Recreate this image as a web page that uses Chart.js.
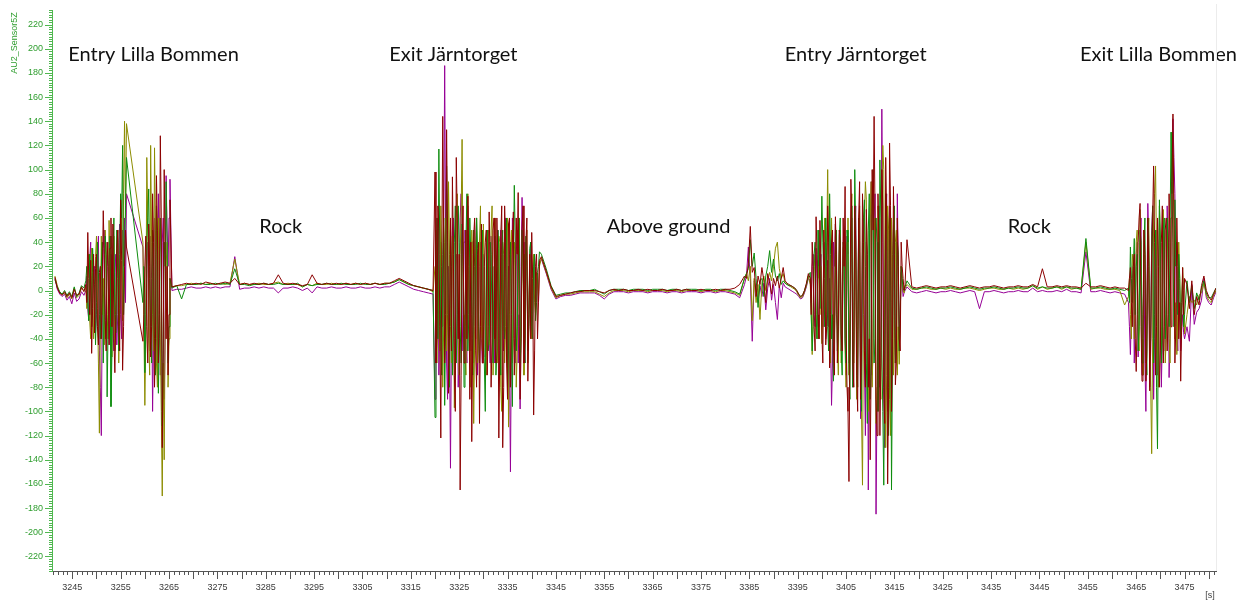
<!DOCTYPE html>
<html>
<head>
<meta charset="utf-8">
<title>AU2_Sensor5Z</title>
<script src="https://cdn.jsdelivr.net/npm/chart.js@4.4.0/dist/chart.umd.min.js"></script>
<style>
  html, body { margin: 0; padding: 0; background: #fff; }
  #wrap { width: 1243px; height: 601px; position: relative; }
</style>
</head>
<body>
<div id="wrap"><canvas id="sensorChart"></canvas></div>
<script>
// recording pieces: start time [s] and sample step [s]
var segStart = [3241.4, 3247.8, 3259.6, 3265.6, 3320.0, 3342.0, 3384.0, 3397.6, 3417.6, 3463.4, 3475.5];
var segStep  = [0.5, 0.2, 0.2, 1, 0.2, 1, 0.4, 0.2, 1, 0.2, 0.5];

var xTicks = [3245, 3255, 3265, 3275, 3285, 3295, 3305, 3315, 3325, 3335, 3345, 3355,
              3365, 3375, 3385, 3395, 3405, 3415, 3425, 3435, 3445, 3455, 3465, 3475];
var yTicks = [-220, -200, -180, -160, -140, -120, -100, -80, -60, -40, -20, 0,
              20, 40, 60, 80, 100, 120, 140, 160, 180, 200, 220];

// sensor channels, one sub-array per recording piece
var chRed = [
  [11, 2, -2, -4, -1, -5, -2, -6, 1, -4, -3, 3, -1],
  [5, -10, 48, 10, -20, 25, -52, -15, 30, -35, 18, 30, -30, -45, 15, 20, -40, 10, 66, 30,
   -25, -50, 40, 20, -45, 35, 60, -30, 55, -40, -68, -20, 35, 50, -30, -50, 75, 25, -66, -30,
   20, 50, 36],
  [-42, -20, 20, 45, -30, -60, 55, 20, -55, -30, 80, 40, -80, -40, 95, 50, -60, -20, 128, 60,
   -130, -50, 100, 30, -40, 20, -70, -20, 75],
  [3, 4, 5, 6, 5, 6, 5, 7, 6, 5, 6, 7, 6, 10, 5, 6, 5, 6, 5, 6, 5, 6, 13, 6, 5, 6, 5, 4, 5, 13,
   6, 5, 6, 5, 6, 5, 6, 5, 6, 5, 6, 5, 6, 5, 6, 6, 8, 10, 8, 6, 4, 3, 2, 1, 0],
  [98, -60, -40, 70, 50, -30, -122, 20, 144, 40, -60, -20, 133, 50, -85, -30, 60, -50, 94, 30,
   -70, -100, 110, 60, -40, 30, -165, -70, 40, 70, -60, -30, 50, -40, 78, 20, -90, 40, -125, -40,
   45, 60, -50, -80, 30, 40, -110, -30, 55, -60, -60, 20, 40, 50, -70, -30, 65, 20, -80, -40,
   50, 60, -40, -60, 60, 20, -122, -50, 45, 70, -130, -80, 70, 40, -60, -90, 55, 60, -80, -20,
   40, 65, -70, -40, 60, 30, 81, -30, -90, -50, 50, 70, -60, -40, 40, 60, -75, -30, 30, -40,
   48, 10, -103, -50, 20, 30, -40, -10, 25],
  [28, 16, 3, -5, -4, -3, -2, -1, -1, 0, 0, 0, -1, -2, 0, 1, 0, 1, 0, 0, 1, 0, 1, 0, 0, 1,
   0, 0, 1, 0, 1, 0, 0, 1, 0, 0, 1, 0, 1, 1, 2, 5],
  [12, 10, 22, 53, 15, 19, -5, 12, 5, 19, 8, -10, 14, 6, -3, 10, 4, 12, 2, 10,
   19, 8, 6, 5, 4, 3, 2, 0, -3, -5, -4, 0, 6, 14],
  [10, -20, 40, 20, -30, -50, 61, 30, -20, -40, 58, 20, -36, -60, 50, 10, -45, -30, 70, 40,
   -64, -20, 40, 50, -50, -70, 61, 30, -60, -30, 50, 40, -36, -50, 60, 20, 86, -30, -80, -100,
   -158, -40, 92, 60, -60, -80, 70, 40, -70, -100, 60, 90, -90, -50, 80, 40, -50, -80, 67, 30,
   -80, -40, -140, -60, 100, 50, 144, 60, -90, -120, 80, 40, -120, -60, 100, 70, -80, -110, 110, 60,
   -160, -80, 122, 70, -100, -40, 86, 30, -78, -60, 60, 20, -40, -50, 40, 20, 10, 0, 5],
  [42, 3, 2, 3, 4, 3, 2, 3, 3, 4, 3, 2, 3, 4, 3, 2, 3, 3, 4, 3, 2, 3, 3, 4, 3, 3, 5, 3, 18, 3,
   3, 4, 3, 4, 3, 3, 2, 6, 3, 3, 4, 3, 2, 3, 2, 2],
  [0, 10, 19, -10, -30, 20, 30, -40, -67, -20, 40, 60, 72, -30, -75, -40, 50, 30, -75, -50,
   60, 20, -83, -40, 30, 60, 103, 40, -70, -30, 60, 20, -80, -50, 40, 70, -60, -30, 50, 60,
   -50, -20, 80, 40, -30, 90, 146, 60, -60, -30, 60, 20, -40, -10, -75, -30, 19, -20, 10],
  [5, -15, 8, -20, -5, -12, 4, 12, 0, -5, -8, -3, 2]
];

var chGreen = [
  [9, 3, -1, -3, 0, -4, -1, -5, 3, -5, -2, 4, 2],
  [8, 20, -10, -25, 30, 10, -30, 35, 15, 5, -45, -10, 40, 15, -20, -40, 20, 40, -60, -20,
   45, 30, -88, -30, 25, 45, -96, -50, 30, 60, -20, -35, 50, 10, -50, 30, 80, 60, 120, -20,
   20, 70, 110],
  [-10, 20, -68, -30, 40, 60, 84, 10, -30, -60, 50, 20, -40, -70, 70, 30, -85, -40, 60, 30,
   -112, -40, 40, 20, 90, 40, -60, -30, 10],
  [2, 4, -7, 5, 5, 5, 6, 5, 5, 6, 5, 6, 5, 18, 5, 5, 4, 5, 5, 6, 5, 5, 6, 5, 5, 5, 6, 3, 5, 4,
   5, 5, 6, 5, 5, 6, 5, 5, 5, 6, 5, 5, 6, 5, 5, 6, 7, 9, 7, 5, 4, 3, 2, 1, 0],
  [-105, -30, 60, -40, 117, 30, -50, -70, 30, 60, -95, -20, 103, 40, -40, -80, 50, 20, -70, -30,
   40, 70, -60, -20, 70, 40, -30, -60, 55, 20, -80, -40, 40, 80, -50, -20, 60, 30, -20, -70,
   50, 20, -40, 60, 35, -30, -60, -20, 40, 50, -30, -60, -100, 30, 50, -50, -40, 40, 30, -30,
   -60, 20, 45, -70, -50, 50, 35, -40, -70, 30, 50, -30, -40, 50, 60, -80, -50, 30, 40, -40,
   -96, 20, 87, 40, -50, -30, 40, 60, -60, -40, 50, 30, -40, -60, 45, 20, -50, -20, 35, 40,
   -30, -40, 20, 30, -25, -10, 15, 20, 32],
  [30, 18, 4, -4, -3, -2, -2, -1, 0, 0, 0, 1, -1, -3, 0, 1, 1, 1, 0, 1, 1, 1, 0, 1, 1, 1,
   0, 1, 1, 0, 1, 1, 1, 0, 1, 1, 0, 1, 1, 0, -1, -3],
  [10, 14, 18, 42, 20, 31, 10, -14, 8, 10, -5, 12, 20, 33, 15, 26, 12, 8, 14, 5,
   8, 6, 5, 4, 4, 3, 2, 0, -3, -5, -4, 0, 5, 12],
  [15, -20, -50, -30, 30, 40, -20, -40, 50, 20, -15, 30, 78, 40, 10, -30, 60, 20, -30, -50,
   80, 30, -40, -20, -75, -40, 30, 50, -50, -30, 45, 60, -50, -70, 40, 30, -40, -60, 50, 40,
   -60, -90, 35, 70, -80, -40, 100, 50, -50, -80, 60, 30, -70, -100, 40, 60, 75, 20, -60, -110,
   50, 80, -90, -60, 70, 100, -60, -40, 60, 40, -100, -70, 108, 60, -50, -100, -161, -40, 80, 60,
   -70, -120, 60, 40, -165, -60, 50, 70, -60, -40, 40, 30, -50, -20, 20, 10, 2, 0, 3],
  [8, 2, 1, 2, 3, 2, 1, 2, 2, 3, 2, 1, 2, 3, 2, 1, 2, 2, 3, 2, 1, 2, 2, 3, 2, 2, 4, 2, 3, 2,
   2, 3, 2, 3, 2, 2, 1, 43, 2, 2, 3, 2, 1, 2, 1, 0],
  [2, -10, 36, 10, -10, 20, 43, -20, 20, 30, -50, -30, 50, 40, -60, -20, 40, 60, -40, -70,
   60, 30, -50, -40, 40, 70, -60, -20, 50, -80, -131, -20, 75, 40, -60, -40, 50, 60, -40, -20,
   60, 40, -30, 50, 131, 80, 40, -30, 75, 20, 40, -20, 30, 10, -40, -10, 10, -30, -20],
  [8, -10, 4, -15, -2, -8, 2, 8, -2, -6, -6, -2, 2]
];

var chOlive = [
  [12, 4, -2, -3, -2, -6, -3, -7, 2, -6, -4, 2, 0],
  [3, -15, 20, 30, -25, -40, 35, 15, -40, -20, 28, 45, -15, -60, -118, -30, 45, -20, 10, -45,
   50, 25, -20, -40, 58, 20, -35, -55, 20, 45, -50, -20, 30, 50, -60, -15, 40, 60, -25, 80,
   140, 60, 138],
  [40, -30, -95, -40, 110, 60, -40, -70, 120, 40, -20, -50, 118, 50, -60, -80, 60, 20, -45, -100,
   -170, -60, -140, -30, 20, 40, -80, -40, 10],
  [3, 4, 4, 5, 6, 5, 6, 5, 6, 5, 6, 5, 6, 26, 5, 6, 5, 5, 6, 5, 5, 6, 7, 5, 6, 5, 5, 3, 5, 4,
   6, 5, 5, 6, 5, 5, 6, 5, 6, 5, 6, 5, 6, 5, 6, 6, 7, 9, 7, 5, 4, 3, 2, 1, -1],
  [20, 50, -60, 20, -30, -50, 70, 10, -80, -30, 40, 60, -50, -20, 90, 30, -30, -60, 45, 20,
   -97, -40, 60, 80, -40, -70, 30, 60, 125, 20, -20, -50, -70, 40, 80, -20, -40, -80, 50, 30,
   -110, -40, 30, 60, -60, -30, 40, 70, -30, -50, 55, 20, -50, -70, 35, 50, -45, -20, 50, 70,
   -70, -40, 60, 20, -30, -60, 45, 40, -80, -100, 40, 30, -60, -30, 50, 60, -113, -20, 30, 50,
   -60, -40, 40, 20, -80, -50, 30, 60, -50, -30, 45, 30, -70, -40, 35, 50, -60, -30, 25, -20,
   -40, 10, 30, -10, -20, 15, 10, -5, 20],
  [27, 15, 2, -6, -4, -3, -3, -2, -1, -1, -1, -1, -3, -5, -2, 0, 0, 0, -1, 0, 0, 0, -1, 0, 0, 0,
   -1, 0, 0, -1, 0, 0, 0, -1, 0, 0, -1, 0, 0, -1, -2, -4],
  [10, 14, 8, 20, -25, 10, -10, 5, -24, 6, 12, 0, 8, 15, 8, 20, 35, 40, 18, 10,
   14, 6, 5, 4, 3, 2, 1, -1, -4, -6, -5, -1, 4, 12],
  [5, -20, -53, -10, 20, 30, -30, -40, 25, 10, -20, 20, -44, -20, 40, 60, -30, 40, 100, 30,
   -40, -60, 60, 20, -25, -40, 55, 30, -40, -70, 30, 50, -60, -30, 35, 40, -50, -80, 40, 60,
   -70, -40, 50, 80, -45, -60, 60, 30, -90, -50, 45, 70, -60, -100, -161, -20, 60, 90, 75, -40,
   -100, -60, 60, 90, -80, -40, 50, 60, -110, -80, 70, 40, -60, -90, 80, 120, 100, -50, -130, -70,
   70, 50, -90, -120, 60, 30, -70, -40, 40, 50, -70, -30, -61, -20, 20, 10, 0, -2, 2],
  [5, 1, 1, 2, 2, 1, 1, 2, 1, 2, 1, 1, 2, 2, 1, 0, 1, 2, 2, 1, 1, 2, 1, 2, 1, 2, 4, 1, 3, 1,
   2, 3, 1, 3, 1, 2, 1, 40, 1, 2, 2, 1, 1, 1, 0, -12],
  [-5, 10, -20, -40, 30, 20, -40, -20, 40, 50, -30, -50, 67, 30, -40, -70, 50, 20, -60, -30,
   40, 60, -50, -80, -135, -40, 60, 80, 103, 30, -50, -80, 70, 40, -50, -30, 67, 20, -60, -40,
   50, 30, -40, -60, 60, 90, 112, 60, -40, -10, -53, -20, 40, 10, -36, -10, 19, 0, -36],
  [-20, -5, -10, -8, -12, -4, -2, 6, -4, -8, -10, -4, 0]
];

var chPurple = [
  [10, 1, -3, -5, -3, -8, -5, -11, -2, -9, -7, -1, -4],
  [0, 12, -15, -25, 25, 40, -30, -10, 10, 20, -35, -20, 30, 45, -50, -80, -120, -10, 35, 50,
   -40, -15, 20, 40, -25, -45, 30, 10, -30, -50, 15, 30, -45, -20, 40, 55, -20, -40, 50, 20,
   60, -10, 80],
  [36, -10, -58, -20, 20, 40, -30, -50, 45, 10, -100, -40, 60, 30, -40, -60, 80, 20, -70, -30,
   40, 60, -90, -40, 95, 50, 20, 60, 92],
  [0, 1, 1, 2, 3, 2, 2, 3, 2, 3, 2, 3, 3, 28, 1, 2, 2, 3, 2, 3, 2, 2, -2, 2, 2, 3, 2, 0, 2, -2,
   3, 2, 2, 3, 2, 2, 3, 2, 2, 3, 2, 2, 3, 2, 3, 3, 5, 7, 5, 3, 1, 0, -1, -2, -3],
  [-90, -40, 30, 60, -70, -20, 40, 20, -30, 50, 186, 40, -60, -90, 20, -40, -147, -30, 50, 60,
   -40, -70, 30, 20, -80, -40, 60, 80, -50, -20, 40, 50, -45, -60, 70, 20, -30, -50, 40, 40,
   -60, -30, 35, 60, -70, -20, 20, 40, -40, -60, 30, 20, -55, -40, 25, 50, -30, -60, 45, 30,
   -20, -40, -60, 20, 30, 50, -40, -70, 50, 30, -30, -50, 40, 60, -50, -30, 20, -60, -150, -40,
   60, 40, -40, -60, 30, 50, -60, -20, -98, 20, 77, 40, -30, -60, 40, 30, -45, -30, 20, 40,
   -35, -20, 25, 30, -15, 10, 10, -10, 22],
  [26, 14, 1, -7, -5, -4, -4, -3, -2, -2, -2, -2, -4, -7, -3, -1, -1, -1, -2, -1, -1, -1, -2, -1, -1, -1,
   -2, -1, -1, -2, -1, -1, -1, -2, -1, -1, -2, -1, -1, -2, -3, -6],
  [5, 12, 36, 10, -42, 8, 0, -10, 4, -5, 6, -16, 2, 10, -8, 5, -10, -24, 4, -6,
   6, 3, 2, 1, 0, -1, -2, -3, -5, -7, -6, -2, 3, 10],
  [8, -10, 20, 30, -20, -30, 35, 10, -30, -20, 20, 30, -15, -30, 30, 40, -40, -20, 25, -30,
   10, -40, -95, -60, 40, 20, 55, -20, -30, -50, 20, 40, -50, -40, 30, 50, -40, -70, 45, 30,
   -60, -40, 30, 60, -80, -50, 40, 70, -60, -30, 50, 40, -106, -70, 30, 60, -60, -120, 40, 30,
   -165, -60, 50, 90, -70, -50, 60, 80, -185, -90, 40, 70, -80, -60, 150, 40, -90, -130, 60, 80,
   -100, -40, 70, 60, -80, -50, 50, 40, -60, -30, 80, 20, -40, -20, 15, 5, -5, -2, 0],
  [3, -1, -2, -1, 0, -1, -2, -1, -1, 0, -1, -2, -1, 0, -1, -15, -1, -1, 0, -1, -2, -1, -1, 0, -1, -1, 2, -1, 0, -1,
   -1, 0, -1, 1, -1, -1, -2, 32, -1, -1, 0, -1, -2, -1, -2, -3],
  [-10, -30, -53, -20, 10, 20, -60, -30, 30, 40, -55, -20, 40, 60, -70, -40, 30, -60, -100, -20,
   72, 40, -80, -50, 50, 70, -90, -40, 40, 50, -70, -30, 60, 30, -80, -40, 50, 20, -50, -30,
   70, 40, -72, -40, 60, 100, 142, 110, 80, 20, -30, -50, 20, 0, -50, -30, -20, -35, -40],
  [-30, -42, 5, -28, -18, -15, -8, 10, -6, -10, -12, -6, -1]
];

// tunnel section notes: text, time [s], level
var noteText  = ['Entry Lilla Bommen', 'Exit Järntorget', 'Entry Järntorget', 'Exit Lilla Bommen', 'Rock', 'Above ground', 'Rock'];
var noteTime  = [3261.8, 3323.8, 3407.0, 3469.6, 3288.1, 3368.3, 3442.9];
var noteLevel = [195, 195, 195, 195, 53, 53, 53];

function toPoints(pieces) {
  var pts = [];
  pieces.forEach(function (vals, s) {
    vals.forEach(function (v, i) {
      pts.push({ x: Math.round((segStart[s] + i * segStep[s]) * 100) / 100, y: v });
    });
  });
  return pts;
}

function channel(label, color, pieces) {
  return {
    label: label,
    data: toPoints(pieces),
    borderColor: color,
    borderWidth: 1,
    pointRadius: 0,
    tension: 0,
    fill: false
  };
}

var axisFont = { family: 'Liberation Sans', size: 9 };
var sensorGreen = '#2f9e2f';

// minor ticks, axis title, unit label and right frame line
var axisDecor = {
  id: 'axisDecor',
  afterDraw: function (chart) {
    var ctx = chart.ctx;
    var xs = chart.scales.x, ys = chart.scales.y;
    var area = chart.chartArea;
    ctx.save();
    ctx.lineWidth = 1;

    ctx.strokeStyle = '#555';
    ctx.beginPath();
    for (var t = Math.ceil(xs.min); t <= xs.max; t++) {
      var px = Math.round(xs.getPixelForValue(t)) + 0.5;
      var len = t % 5 === 0 ? 8 : 4;
      ctx.moveTo(px, area.bottom);
      ctx.lineTo(px, area.bottom + len);
    }
    ctx.stroke();

    ctx.strokeStyle = '#50b850';
    ctx.beginPath();
    for (var v = -232; v <= 232; v += 2) {
      var py = Math.round(ys.getPixelForValue(v)) + 0.5;
      var l = v % 20 === 0 ? 7 : 3;
      ctx.moveTo(area.left - l, py);
      ctx.lineTo(area.left, py);
    }
    ctx.stroke();

    ctx.strokeStyle = '#ececec';
    ctx.beginPath();
    ctx.moveTo(area.right + 0.5, 4);
    ctx.lineTo(area.right + 0.5, area.bottom);
    ctx.stroke();

    ctx.fillStyle = sensorGreen;
    ctx.font = '9px "Liberation Sans"';
    ctx.textAlign = 'center';
    ctx.textBaseline = 'middle';
    ctx.translate(15, 43);
    ctx.rotate(-Math.PI / 2);
    ctx.fillText('AU2_Sensor5Z', 0, 0);
    ctx.restore();

    ctx.save();
    ctx.fillStyle = '#444';
    ctx.font = '9px "Liberation Sans"';
    ctx.textAlign = 'center';
    ctx.textBaseline = 'middle';
    ctx.fillText('[s]', 1210, 596);
    ctx.restore();
  }
};

var sectionNotes = {
  id: 'sectionNotes',
  afterDatasetsDraw: function (chart) {
    var ctx = chart.ctx;
    var xs = chart.scales.x, ys = chart.scales.y;
    ctx.save();
    ctx.fillStyle = '#111';
    ctx.font = '20px Lato';
    ctx.textAlign = 'center';
    ctx.textBaseline = 'middle';
    noteText.forEach(function (txt, i) {
      ctx.fillText(txt, xs.getPixelForValue(noteTime[i]), ys.getPixelForValue(noteLevel[i]));
    });
    ctx.restore();
  }
};

function noEdgePadding(s) {
  s.paddingTop = 0;
  s.paddingBottom = 0;
  s.paddingLeft = 0;
  s.paddingRight = 0;
}

new Chart(document.getElementById('sensorChart'), {
  type: 'line',
  data: {
    datasets: [
      channel('Z4', '#8b0000', chRed),
      channel('Z2', '#0e8c0e', chGreen),
      channel('Z1', '#8c8c00', chOlive),
      channel('Z3', '#960096', chPurple)
    ]
  },
  options: {
    responsive: true,
    maintainAspectRatio: false,
    animation: false,
    events: [],
    layout: { padding: { top: 10, right: 27, left: 0, bottom: 0 } },
    plugins: { legend: { display: false }, tooltip: { enabled: false } },
    scales: {
      x: {
        type: 'linear',
        min: 3240.8,
        max: 3481.5,
        afterBuildTicks: function (s) { s.ticks = xTicks.map(function (v) { return { value: v }; }); },
        afterFit: function (s) { s.height = 30; noEdgePadding(s); },
        grid: { display: false, drawTicks: false },
        border: { display: true, color: '#555', width: 1 },
        ticks: {
          autoSkip: false, maxRotation: 0, padding: 11,
          color: '#3a3a3a', font: axisFont,
          callback: function (v) { return String(v); }
        }
      },
      y: {
        min: -232,
        max: 232,
        afterBuildTicks: function (s) { s.ticks = yTicks.map(function (v) { return { value: v }; }); },
        afterFit: function (s) { s.width = 52; noEdgePadding(s); },
        grid: { display: false, drawTicks: false },
        border: { display: true, color: '#50b850', width: 1 },
        ticks: {
          autoSkip: false, padding: 9,
          color: sensorGreen, font: axisFont,
          callback: function (v) { return String(v); }
        }
      }
    }
  },
  plugins: [axisDecor, sectionNotes]
});
</script>
</body>
</html>
